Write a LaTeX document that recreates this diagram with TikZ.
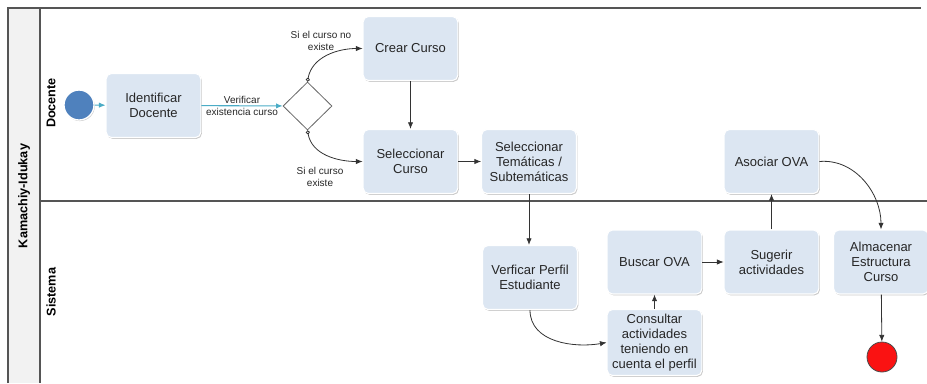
\documentclass[tikz,border=0pt]{standalone}
\usepackage{fontspec}
\setmainfont{Liberation Sans}
\usetikzlibrary{arrows.meta, shapes.geometric, shadows}
\definecolor{taskBlue}{RGB}{220, 230, 242}
\definecolor{startBlue}{RGB}{79, 129, 189}
\definecolor{flowCyan}{RGB}{75, 172, 198}
\definecolor{endRed}{RGB}{250, 18, 18}
\definecolor{poolGray}{RGB}{242, 242, 242}
\definecolor{laneLine}{RGB}{85, 85, 85}

\begin{document}
\begin{tikzpicture}[x=0.75pt, y=-0.75pt,
    task/.style={draw=white, line width=0.8pt, rounded corners=4pt, fill=taskBlue,
      minimum width=71pt, minimum height=48pt, align=center, text=black!85,
      font=\fontsize{9.75}{11.25}\selectfont,
      drop shadow={shadow xshift=0.8pt, shadow yshift=-1pt, opacity=0.35, fill=black!60}},
    flow/.style={-{Latex[length=5pt, width=4pt]}, draw=black!80, line width=0.6pt},
    msg/.style={-{Latex[length=5pt, width=4pt]}, draw=flowCyan, line width=0.8pt},
    cond/.style={font=\fontsize{7.5}{9.5}\selectfont, align=center, text=black!85},
    lane/.style={rotate=90, font=\bfseries\fontsize{9.5}{11}\selectfont}]
  \useasboundingbox (0,0) rectangle (927,383);

  % pool and lanes
  \fill[poolGray] (8,8) rectangle (40,383);
  \draw[laneLine, line width=1pt] (8,383) -- (8,8) -- (921,8);
  \draw[laneLine, line width=1pt] (40,8) -- (40,383);
  \draw[laneLine, line width=1pt] (40,201) -- (927,201);
  \node[lane] (pool) at (24,196) {Kamachiy-Idukay};
  \node[lane] (docente) at (51,103) {Docente};
  \node[lane] (sistema) at (51,292) {Sistema};

  % lane Docente
  \node[circle, fill=startBlue, draw=white, line width=1pt, minimum size=22.5pt,
    drop shadow={shadow xshift=0.6pt, shadow yshift=-0.8pt, opacity=0.35, fill=black!60}] (inicio) at (79,105) {};
  \node[task] (identificar) at (153.5,105.5) {Identificar\\Docente};
  \node[diamond, draw=black!60, line width=0.6pt, fill=white, inner sep=0pt,
    minimum width=36.75pt, minimum height=36pt] (gw) at (307.5,106) {};
  \node[task] (crear) at (410.5,48.5) {Crear Curso};
  \node[task] (selcurso) at (410.5,161.5) {Seleccionar\\Curso};
  \node[task] (seltem) at (529,161.5) {Seleccionar\\Temáticas /\\Subtemáticas};
  \node[task] (asociar) at (771.5,161.5) {Asociar OVA};
  \node[cond] (noexiste) at (321,41) {Si el curso no\\existe};
  \node[cond] (existe) at (320,177) {Si el curso\\existe};

  % lane Sistema
  \node[task] (verificar) at (530,277.5) {Verficar Perfil\\Estudiante};
  \node[task] (buscar) at (654.5,262) {Buscar OVA};
  \node[task] (sugerir) at (771.5,262) {Sugerir\\actividades};
  \node[task] (almacenar) at (881,262) {Almacenar\\Estructura\\Curso};
  \node[task] (consultar) at (654.5,342.5) {Consultar\\actividades\\teniendo en\\cuenta el perfil};
  \node[circle, fill=endRed, draw=black!70, line width=0.6pt, minimum size=22.5pt] (fin) at (882,357) {};

  % flows
  \draw[msg] (inicio) -- (identificar);
  \draw[msg] (identificar) -- node[cond] {Verificar\\existencia curso} (gw);
  \draw[flow, {Circle[open, length=3pt]}-{Latex[length=5pt, width=4pt]}] (gw.north) to[out=80, in=180] (crear.west);
  \draw[flow, {Circle[open, length=3pt]}-{Latex[length=5pt, width=4pt]}] (gw.south) to[out=-80, in=180] (selcurso.west);
  \draw[flow] (crear) -- (selcurso);
  \draw[flow] (selcurso) -- (seltem);
  \draw[flow] (seltem.south) -- (seltem.south |- verificar.north);
  \draw[flow] (verificar.south) to[out=-90, in=190] (consultar.west);
  \draw[flow] (consultar) -- (buscar);
  \draw[flow] (buscar) -- (sugerir);
  \draw[flow] (sugerir) -- (asociar);
  \draw[flow] (asociar.east) to[out=5, in=90] (almacenar.north);
  \draw[flow] (almacenar) -- (fin);
\end{tikzpicture}
\end{document}
